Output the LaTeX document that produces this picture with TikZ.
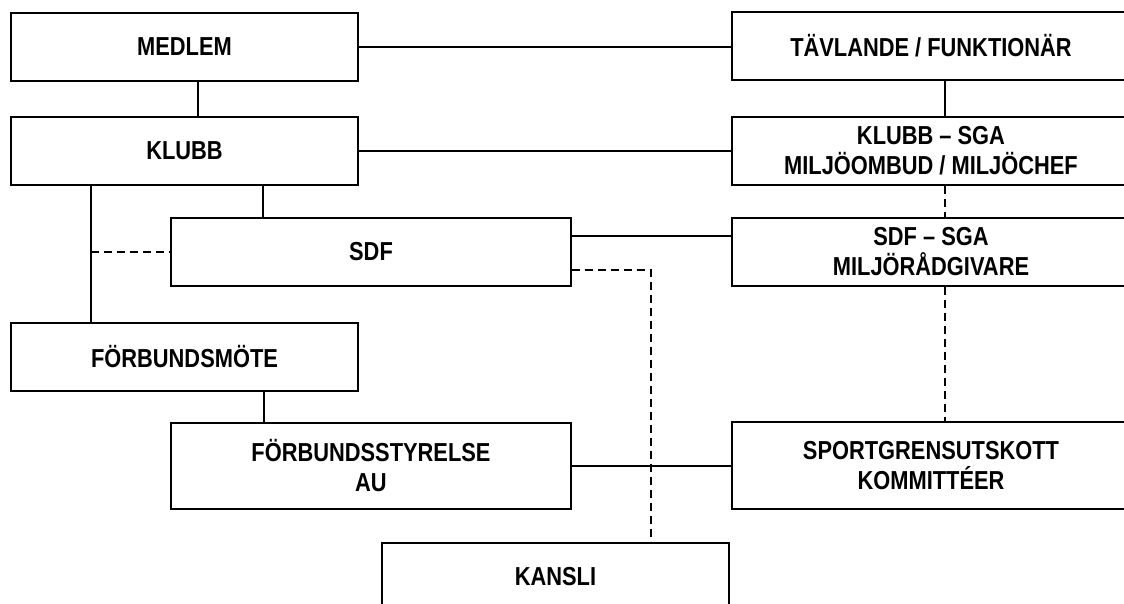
\documentclass[tikz,border=0pt]{standalone}
\usepackage{fontspec}
\setmainfont{Liberation Sans}[FakeStretch=0.84]
\usepackage{tikz}
\usetikzlibrary{positioning, calc}

\tikzset{
  orgbox/.style={draw, line width=0.65pt, inner sep=0pt, align=center,
    minimum width=173.5pt, minimum height=34pt,
    font=\fontsize{13}{15}\selectfont\bfseries},
  widebox/.style={orgbox, minimum width=200pt},
  rightbox/.style={orgbox, minimum width=199pt},
  link/.style={line width=0.65pt},
  dlink/.style={line width=0.65pt, dash pattern=on 4pt off 2.5pt}
}

\begin{document}
\begin{tikzpicture}[x=0.5pt, y=-0.5pt]
                \clip (0,0) rectangle (1124,604);
                % Left column
                \node[orgbox] (medlem) at (184.5,47) {MEDLEM};
                \node[orgbox] (klubb) at (184.5,151) {KLUBB};
                \node[widebox] (sdf) at (371,252) {SDF};
                \node[orgbox] (fmote) at (184.5,357) {FÖRBUNDSMÖTE};
                \node[widebox, minimum height=43pt] (fstyr) at (371,466) {FÖRBUNDSSTYRELSE\\AU};
                \node[orgbox] (kansli) at (555.5,577) {KANSLI};

                % Right column
                \node[rightbox] (tavl) at (931,46) {TÄVLANDE / FUNKTIONÄR};
                \node[rightbox] (ksga) at (931,151) {KLUBB – SGA\\MILJÖOMBUD / MILJÖCHEF};
                \node[rightbox] (ssga) at (931,252) {SDF – SGA\\MILJÖRÅDGIVARE};
                \node[rightbox, minimum height=43.5pt] (sport) at (931,465.5) {SPORTGRENSUTSKOTT\\KOMMITTÉER};

                % Solid links
                \draw[link] ([xshift=6.75pt]medlem.south) -- ([xshift=6.75pt]klubb.north);
                \draw[link] ([xshift=39.25pt]klubb.south) -- ([xshift=39.25pt]klubb.south |- sdf.north);
                \draw[link] ([xshift=-46.75pt]klubb.south) coordinate (kv) -- (kv |- fmote.north);
                \draw[link] ([xshift=39.75pt]fmote.south) -- ([xshift=39.75pt]fmote.south |- fstyr.north);
                \draw[link] (medlem.east) -- (medlem.east -| tavl.west);
                \draw[link] (klubb.east) -- (ksga.west);
                \draw[link] ([yshift=8pt]sdf.east) -- ([yshift=8pt]sdf.east -| ssga.west);
                \draw[link] (fstyr.east) -- (fstyr.east -| sport.west);
                \draw[link] ([xshift=7pt]tavl.south) -- ([xshift=7pt]ksga.north);

                % Dashed links
                \draw[dlink] (kv |- sdf.west) -- (sdf.west);
                \coordinate (kn) at ([xshift=47.75pt]kansli.north);
                \draw[dlink] ([yshift=-9pt]sdf.east) -| (kn);
                \draw[dlink] ([xshift=7pt]ksga.south) -- ([xshift=7pt]ssga.north);
                \draw[dlink] ([xshift=7pt]ssga.south) -- ([xshift=7pt]sport.north);
            \end{tikzpicture}
\end{document}
